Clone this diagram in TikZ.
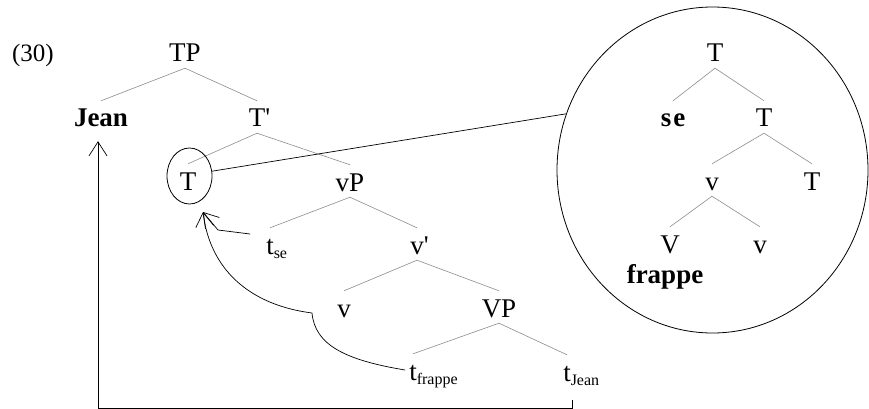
\documentclass[tikz,border=0pt]{standalone}
\usepackage{fontspec}
\setmainfont{Liberation Serif}
\usetikzlibrary{shapes.geometric,arrows.meta}
\newcommand{\trsub}[1]{\raisebox{-4pt}{\fontsize{16}{16}\selectfont #1}}

\begin{document}
\begin{tikzpicture}[x=1pt,y=-1pt,
  cat/.style={anchor=base,inner sep=4pt,text height=22pt,text depth=2pt,font=\fontsize{27}{30}\selectfont},
  branch/.style={draw=black!45,line width=0.6pt},
  move/.style={draw=black,line width=0.7pt,-{Straight Barb[length=14pt,width=18pt]}},
  ring/.style={draw=black,line width=0.8pt,shape=ellipse,inner sep=0pt}]
\useasboundingbox (0,0) rectangle (869,409);
\node[cat,font=\fontsize{25}{30}\selectfont] (num) at (33,62) {(30)};
% main tree
\node[cat] (TP) at (185,62) {TP};
\node[cat] (Jean) at (101,127) {\textbf{Jean}};
\node[cat] (Tbar) at (257,127) {T\rlap{\textquotesingle}};
\node[cat] (T) at (188,190) {T};
\node[cat] (vP) at (350,191) {vP};
\node[cat] (tse) at (270,254) {t\rlap{\trsub{se}}};
\node[cat] (vbar) at (417,254) {v\rlap{\textquotesingle}};
\node[cat] (v) at (344,317) {v};
\node[cat] (VP) at (499,317) {VP};
\node[cat] (tfr) at (413,380) {t\rlap{\trsub{frappe}}};
\node[cat] (tjean) at (567,381) {t\rlap{\trsub{Jean}}};
\draw[branch] (TP.south) -- (Jean.north);
\draw[branch] (TP.south) -- (Tbar.north);
\draw[branch] (Tbar.south) -- (T.north);
\draw[branch] (Tbar.south) -- (vP.north);
\draw[branch] (vP.south) -- (tse.north);
\draw[branch] (vP.south) -- (vbar.north);
\draw[branch] (vbar.south) -- (v.north);
\draw[branch] (vbar.south) -- (VP.north);
\draw[branch] (VP.south) -- (tfr.north);
\draw[branch] (VP.south) -- (tjean.north);
% zoomed head
\node[cat] (zT) at (715,62) {T};
\node[cat] (zse) at (673,127) {\textbf{s\kern2pt e}};
\node[cat] (zTbar) at (764,127) {T};
\node[cat] (zv) at (712,190) {v};
\node[cat] (zTlow) at (812,190) {T};
\node[cat] (zV) at (670,253) {V};
\node[cat] (zvlow) at (760,253) {v};
\node[cat] (zfrappe) at (665,283) {\textbf{frappe}};
\draw[branch] (zT.south) -- (zse.north);
\draw[branch] (zT.south) -- (zTbar.north);
\draw[branch] (zTbar.south) -- (zv.north);
\draw[branch] (zTbar.south) -- (zTlow.north);
\draw[branch] (zv.south) -- (zV.north);
\draw[branch] (zv.south) -- (zvlow.north);
% rings
\node[ring,minimum width=45pt,minimum height=56pt] (Tring) at (189.5,176) {};
\node[ring,minimum width=311pt,minimum height=326pt] (lens) at (712.5,170) {};
\draw[line width=0.7pt] (Tring.12) -- (lens.159);
% movement
\coordinate (tip) at (203,212);
\coordinate (floor) at (0,408.2);
\coordinate (jeanfoot) at ([xshift=5pt,yshift=-13pt]tjean.south);
\draw[move,shorten >=8pt] (jeanfoot) -- (jeanfoot |- floor) -| ([xshift=-3pt]Jean.south);
\draw[move] ([shift={(-12,-10)}]tse.west) -- (218,230) -- (tip);
\draw[move] (tfr.west) .. controls (345,360) and (315,345) .. (312,313)
  .. controls (250,305) and (210,270) .. (tip);
\end{tikzpicture}
\end{document}
